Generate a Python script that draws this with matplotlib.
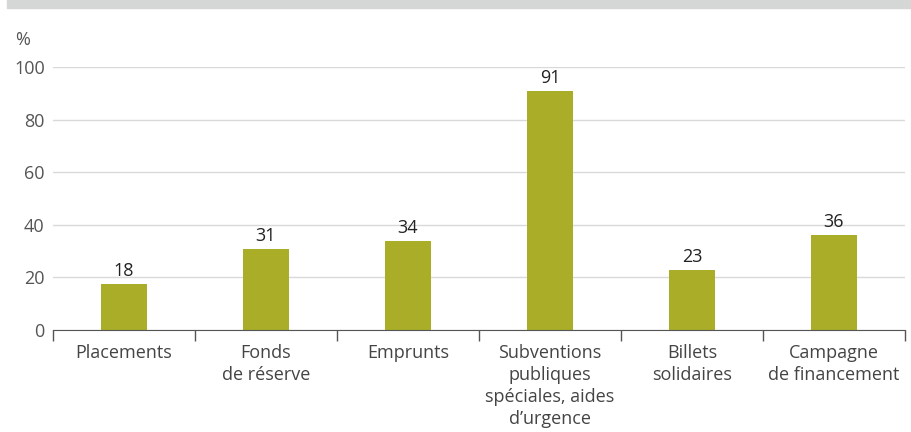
import matplotlib.pyplot as plt
from matplotlib.patches import Rectangle
import numpy as np

categories = ['Placements', 'Fonds\nde réserve', 'Emprunts',
              'Subventions\npubliques\nspéciales, aides\nd\u2019urgence',
              'Billets\nsolidaires', 'Campagne\nde financement']
values = [17.5, 30.8, 33.8, 90.9, 22.8, 36.1]
labels = ['18', '31', '34', '91', '23', '36']
yticks = [0, 20, 40, 60, 80, 100]

plt.rcParams['font.family'] = ['Open Sans', 'DejaVu Sans']

fig = plt.figure(figsize=(9.11, 4.32), dpi=100)
ax = fig.add_axes([53 / 911, 1 - 330 / 432, 852 / 911, 263 / 432])

# grey band at the top
fig.patches.append(Rectangle((7 / 911, 1 - 8 / 432), 1, 8 / 432,
                             transform=fig.transFigure, color='#d5d6d6', zorder=0))

x = np.arange(len(categories))
ax.bar(x, values, width=0.32, color='#a9ad27', zorder=3)
for xi, v, lab in zip(x, values, labels):
    ax.text(xi, v + 1.5, lab, ha='center', va='bottom', fontsize=13, color='#222222')

ax.set_xlim(-0.5, len(categories) - 0.5)
ax.set_ylim(0, 100)
ax.set_yticks(yticks)
ax.yaxis.grid(True, color='#d9d9d9', linewidth=1, zorder=0)
ax.tick_params(axis='y', length=0, labelsize=13, labelcolor='#555555', pad=6)

# category labels centred, ticks on boundaries
ax.set_xticks(x)
ax.set_xticklabels(categories, fontsize=13, color='#444444', linespacing=1.3)
ax.tick_params(axis='x', which='major', length=0, pad=10)
ax.set_xticks(np.arange(-0.5, len(categories)), minor=True)
ax.tick_params(axis='x', which='minor', length=8, color='#555555', width=1)

for s in ['top', 'right', 'left']:
    ax.spines[s].set_visible(False)
ax.spines['bottom'].set_color('#555555')
ax.spines['bottom'].set_zorder(4)

fig.text(15 / 911, 1 - 40 / 432, '%', fontsize=13, color='#555555', va='center')

fig.savefig('out.png', dpi=100)
